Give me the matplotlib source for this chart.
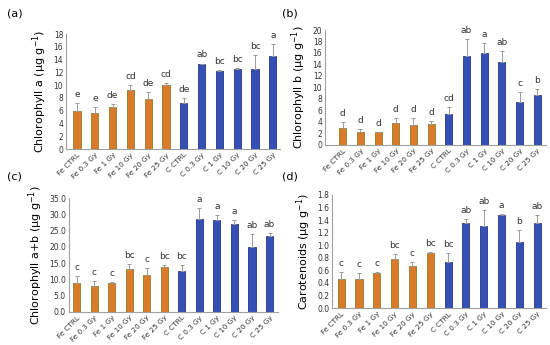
import matplotlib.pyplot as plt
import numpy as np

# --- data ---
groups = ['Fe CTRL', 'Fe 0.3 Gy', 'Fe 1 Gy', 'Fe 10 Gy', 'Fe 20 Gy', 'Fe 25 Gy',
          'C CTRL', 'C 0.3 Gy', 'C 1 Gy', 'C 10 Gy', 'C 20 Gy', 'C 25 Gy']

chl_a = [6.0, 5.6, 6.6, 9.3, 7.9, 10.0, 7.2, 13.3, 12.3, 12.5, 12.5, 14.6]
chl_a_err = [1.2, 1.0, 0.4, 0.8, 1.0, 0.3, 0.8, 0.1, 0.05, 0.2, 2.2, 1.9]
chl_a_let = ['e', 'e', 'de', 'cd', 'de', 'cd', 'de', 'ab', 'bc', 'bc', 'bc', 'a']

chl_b = [3.0, 2.3, 2.2, 3.8, 3.5, 3.6, 5.4, 15.5, 16.0, 14.5, 7.5, 8.6]
chl_b_err = [1.0, 0.5, 0.1, 0.8, 1.1, 0.5, 1.2, 3.0, 1.8, 1.8, 1.7, 1.1]
chl_b_let = ['d', 'd', 'd', 'd', 'd', 'd', 'cd', 'ab', 'a', 'ab', 'c', 'b']

chl_ab = [9.0, 7.9, 8.8, 13.2, 11.4, 13.7, 12.6, 28.7, 28.2, 27.0, 19.9, 23.3]
chl_ab_err = [2.0, 1.5, 0.5, 1.5, 2.0, 0.7, 1.7, 3.2, 1.6, 1.3, 4.0, 1.0]
chl_ab_let = ['c', 'c', 'c', 'bc', 'c', 'bc', 'bc', 'a', 'a', 'a', 'ab', 'ab']

carot = [0.47, 0.46, 0.56, 0.78, 0.67, 0.87, 0.74, 1.35, 1.31, 1.48, 1.05, 1.35]
carot_err = [0.10, 0.10, 0.02, 0.08, 0.07, 0.03, 0.14, 0.06, 0.25, 0.02, 0.20, 0.13]
carot_let = ['c', 'c', 'c', 'bc', 'c', 'bc', 'bc', 'ab', 'ab', 'a', 'b', 'ab']

ORANGE = '#DC7A2C'
ORANGE_EDGE = '#8A7E22'
BLUE = '#3550B5'
BLUE_EDGE = '#24358C'
ERR = '#9A9A9A'


def panel(fig, rect, vals, errs, letters, ylabel, ymax, ystep, fmt, xlim, tag, tagpos):
    ax = fig.add_axes(rect)
    x = np.arange(len(groups))
    colors = [ORANGE if g.startswith('Fe') else BLUE for g in groups]
    edges = [ORANGE_EDGE if g.startswith('Fe') else BLUE_EDGE for g in groups]
    ax.bar(x, vals, width=0.4, color=colors, edgecolor=edges, linewidth=0.6, zorder=2)
    ax.errorbar(x, vals, yerr=[np.zeros(len(errs)), errs], fmt='none',
                ecolor=ERR, elinewidth=0.7, capsize=1.5, capthick=0.7, zorder=3)
    pad = ymax * 0.035
    for xi, v, e, l in zip(x, vals, errs, letters):
        ax.text(xi, v + e + pad, l, ha='center', va='bottom', fontsize=6.5, color='#333333')
    ax.set_ylim(0, ymax)
    ax.set_xlim(*xlim)
    ticks = np.arange(0, ymax + ystep / 2, ystep)
    ax.set_yticks(ticks)
    ax.set_yticklabels([fmt.format(t) for t in ticks], fontsize=5.5, color='#333333')
    ax.set_xticks(x)
    ax.set_xticklabels(groups, rotation=45, ha='right', rotation_mode='anchor',
                       fontsize=5.2, color='#333333')
    ax.tick_params(axis='both', length=0, pad=2)
    for s in ['top', 'right']:
        ax.spines[s].set_visible(False)
    ax.spines['left'].set_color('#A0A0A0')
    ax.spines['bottom'].set_color('#A0A0A0')
    ax.spines['left'].set_linewidth(0.8)
    ax.spines['bottom'].set_linewidth(0.8)
    ax.set_ylabel(ylabel, fontsize=8, labelpad=3)
    fig.text(tagpos[0], tagpos[1], tag, fontsize=8, ha='left', va='center')
    return ax


fig = plt.figure(figsize=(5.5, 3.45), dpi=100)

panel(fig, [0.120, 0.568, 0.389, 0.333], chl_a, chl_a_err, chl_a_let,
      'Chlorophyll a (µg g$^{-1}$)', 18, 2, '{:.0f}', (-0.62, 11.4), '(a)', (0.012, 0.962))
panel(fig, [0.591, 0.580, 0.402, 0.333], chl_b, chl_b_err, chl_b_let,
      'Chlorophyll b (µg g$^{-1}$)', 20, 2, '{:.0f}', (-1.0, 11.5), '(b)', (0.512, 0.962))
panel(fig, [0.125, 0.096, 0.381, 0.330], chl_ab, chl_ab_err, chl_ab_let,
      'Chlorophyll a+b (µg g$^{-1}$)', 35, 5, '{:.1f}', (-0.45, 11.5), '(c)', (0.012, 0.487))
panel(fig, [0.604, 0.107, 0.389, 0.328], carot, carot_err, carot_let,
      'Carotenoids (µg g$^{-1}$)', 1.8, 0.2, '{:.1f}', (-0.5, 11.5), '(d)', (0.512, 0.487))

fig.savefig('out.png', dpi=100)
